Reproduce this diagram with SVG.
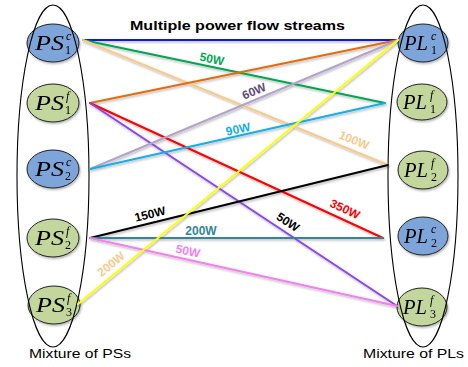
<svg xmlns="http://www.w3.org/2000/svg" width="468" height="367" viewBox="0 0 468 367">
  <defs>
    <filter id="shade" x="-5%" y="-5%" width="110%" height="115%">
      <feDropShadow dx="1" dy="1.5" stdDeviation="0.8" flood-color="#000" flood-opacity="0.3"/>
    </filter>
  </defs>
  <style>
    .group { fill: none; stroke: #000; stroke-width: 1.1; }
    .src { stroke: #222; stroke-width: 1; }
    .blue { fill: #7EA5DA; }
    .green { fill: #C3D69B; }
    .sym { font-family: "Liberation Serif", "DejaVu Serif", serif; font-style: italic; font-size: 21px; fill: #000; }
    .sup { font-family: "Liberation Serif", "DejaVu Serif", serif; font-style: italic; font-size: 12px; fill: #000; }
    .sub { font-family: "Liberation Serif", "DejaVu Serif", serif; font-size: 12px; fill: #000; }
    .flow { fill: none; stroke-width: 2; stroke-linecap: round; }
    .w { font-family: "Liberation Sans", Arial, sans-serif; font-weight: bold; font-size: 12px; text-anchor: middle; }
    .title { font-family: "Liberation Sans", Arial, sans-serif; font-weight: bold; font-size: 13.5px; fill: #000; }
    .cap { font-family: "Liberation Sans", Arial, sans-serif; font-size: 12.5px; fill: #000; }
  </style>

  <!-- power sources (left column) -->
  <g id="ps1c" filter="url(#shade)">
    <ellipse class="src blue" cx="53" cy="43" rx="26" ry="19"/>
    <text class="sym" x="35" y="50" textLength="29" lengthAdjust="spacingAndGlyphs">PS</text>
    <text class="sup" x="66" y="40">c</text>
    <text class="sub" x="65" y="54">1</text>
  </g>
  <g id="ps1f" filter="url(#shade)">
    <ellipse class="src green" cx="53" cy="103" rx="26" ry="19"/>
    <text class="sym" x="35" y="110" textLength="29" lengthAdjust="spacingAndGlyphs">PS</text>
    <text class="sup" x="66" y="100">f</text>
    <text class="sub" x="65" y="114">1</text>
  </g>
  <g id="ps2c" filter="url(#shade)">
    <ellipse class="src blue" cx="53" cy="169" rx="26" ry="19"/>
    <text class="sym" x="35" y="176" textLength="29" lengthAdjust="spacingAndGlyphs">PS</text>
    <text class="sup" x="66" y="166">c</text>
    <text class="sub" x="65" y="180">2</text>
  </g>
  <g id="ps2f" filter="url(#shade)">
    <ellipse class="src green" cx="53" cy="238" rx="26" ry="19"/>
    <text class="sym" x="35" y="245" textLength="29" lengthAdjust="spacingAndGlyphs">PS</text>
    <text class="sup" x="66" y="235">f</text>
    <text class="sub" x="65" y="249">2</text>
  </g>
  <g id="ps3f" filter="url(#shade)">
    <ellipse class="src green" cx="54" cy="305" rx="26" ry="19"/>
    <text class="sym" x="36" y="312" textLength="29" lengthAdjust="spacingAndGlyphs">PS</text>
    <text class="sup" x="67" y="302">f</text>
    <text class="sub" x="66" y="316">3</text>
  </g>
  <g id="ps-group">
    <ellipse class="group" cx="53" cy="176" rx="36" ry="171"/>
    <text class="cap" x="29" y="358" textLength="102" lengthAdjust="spacingAndGlyphs">Mixture of PSs</text>
  </g>

  <!-- power loads (right column) -->
  <g id="pl1c" filter="url(#shade)">
    <ellipse class="src blue" cx="423" cy="43" rx="25" ry="19"/>
    <text class="sym" x="404" y="50" textLength="24" lengthAdjust="spacingAndGlyphs">PL</text>
    <text class="sup" x="431" y="40">c</text>
    <text class="sub" x="431" y="54">1</text>
  </g>
  <g id="pl1f" filter="url(#shade)">
    <ellipse class="src green" cx="422" cy="102" rx="25" ry="18"/>
    <text class="sym" x="403" y="109" textLength="24" lengthAdjust="spacingAndGlyphs">PL</text>
    <text class="sup" x="430" y="99">f</text>
    <text class="sub" x="430" y="113">1</text>
  </g>
  <g id="pl2f" filter="url(#shade)">
    <ellipse class="src green" cx="423" cy="170" rx="25" ry="19"/>
    <text class="sym" x="404" y="177" textLength="24" lengthAdjust="spacingAndGlyphs">PL</text>
    <text class="sup" x="431" y="167">f</text>
    <text class="sub" x="431" y="181">2</text>
  </g>
  <g id="pl2c" filter="url(#shade)">
    <ellipse class="src blue" cx="423" cy="236" rx="25" ry="19"/>
    <text class="sym" x="404" y="243" textLength="24" lengthAdjust="spacingAndGlyphs">PL</text>
    <text class="sup" x="431" y="233">c</text>
    <text class="sub" x="431" y="247">2</text>
  </g>
  <g id="pl3f" filter="url(#shade)">
    <ellipse class="src green" cx="422" cy="307" rx="25" ry="19"/>
    <text class="sym" x="403" y="314" textLength="24" lengthAdjust="spacingAndGlyphs">PL</text>
    <text class="sup" x="430" y="304">f</text>
    <text class="sub" x="430" y="318">3</text>
  </g>
  <g id="pl-group">
    <ellipse class="group" cx="423" cy="176" rx="35" ry="171"/>
    <text class="cap" x="363" y="358" textLength="101" lengthAdjust="spacingAndGlyphs">Mixture of PLs</text>
  </g>

  <text class="title" x="130" y="30" textLength="215" lengthAdjust="spacingAndGlyphs">Multiple power flow streams</text>

  <!-- power flow streams -->
  <g id="connectors" filter="url(#shade)">
    <line class="flow" x1="83" y1="40" x2="398" y2="40" stroke="#0A14F0"/>
    <line class="flow" x1="83" y1="40" x2="385" y2="103" stroke="#00A651"/>
    <line class="flow" x1="83" y1="40" x2="388" y2="165" stroke="#F9C98A"/>
    <line class="flow" x1="90" y1="103" x2="398" y2="40" stroke="#E46C0A"/>
    <line class="flow" x1="90" y1="103" x2="383" y2="238" stroke="#FF0000"/>
    <line class="flow" x1="90" y1="103" x2="397" y2="306" stroke="#8E44EC"/>
    <line class="flow" x1="90" y1="169" x2="398" y2="40" stroke="#B3A2CC"/>
    <line class="flow" x1="90" y1="169" x2="385" y2="103" stroke="#14AEE8"/>
    <line class="flow" x1="90" y1="238" x2="388" y2="165" stroke="#000000"/>
    <line class="flow" x1="90" y1="238" x2="383" y2="238" stroke="#31859C"/>
    <line class="flow" x1="90" y1="238" x2="397" y2="306" stroke="#F57FEE"/>
    <line class="flow" x1="78" y1="304" x2="398" y2="40" stroke="#FFFF00"/>
  </g>

  <!-- stream power labels -->
  <g id="flow-labels">
    <text class="w" fill="#00A651" transform="translate(212,59) rotate(11.8)" dy=".35em">50W</text>
    <text class="w" fill="#604A7B" transform="translate(254,91) rotate(-22.7)" dy=".35em">60W</text>
    <text class="w" fill="#14AEE8" transform="translate(238,129) rotate(-12.6)" dy=".35em">90W</text>
    <text class="w" fill="#F9C98A" transform="translate(354,140) rotate(22.3)" dy=".35em">100W</text>
    <text class="w" fill="#FF0000" transform="translate(345,209) rotate(24.7)" dy=".35em">350W</text>
    <text class="w" fill="#000000" transform="translate(288,222) rotate(33.5)" dy=".35em">50W</text>
    <text class="w" fill="#000000" transform="translate(150,214) rotate(-13.8)" dy=".35em">150W</text>
    <text class="w" fill="#31859C" transform="translate(201,231)" dy=".35em">200W</text>
    <text class="w" fill="#F57FEE" transform="translate(188,251) rotate(12.5)" dy=".35em">50W</text>
    <text class="w" fill="#F9C98A" transform="translate(111,264) rotate(-39.5)" dy=".35em">200W</text>
  </g>
</svg>
